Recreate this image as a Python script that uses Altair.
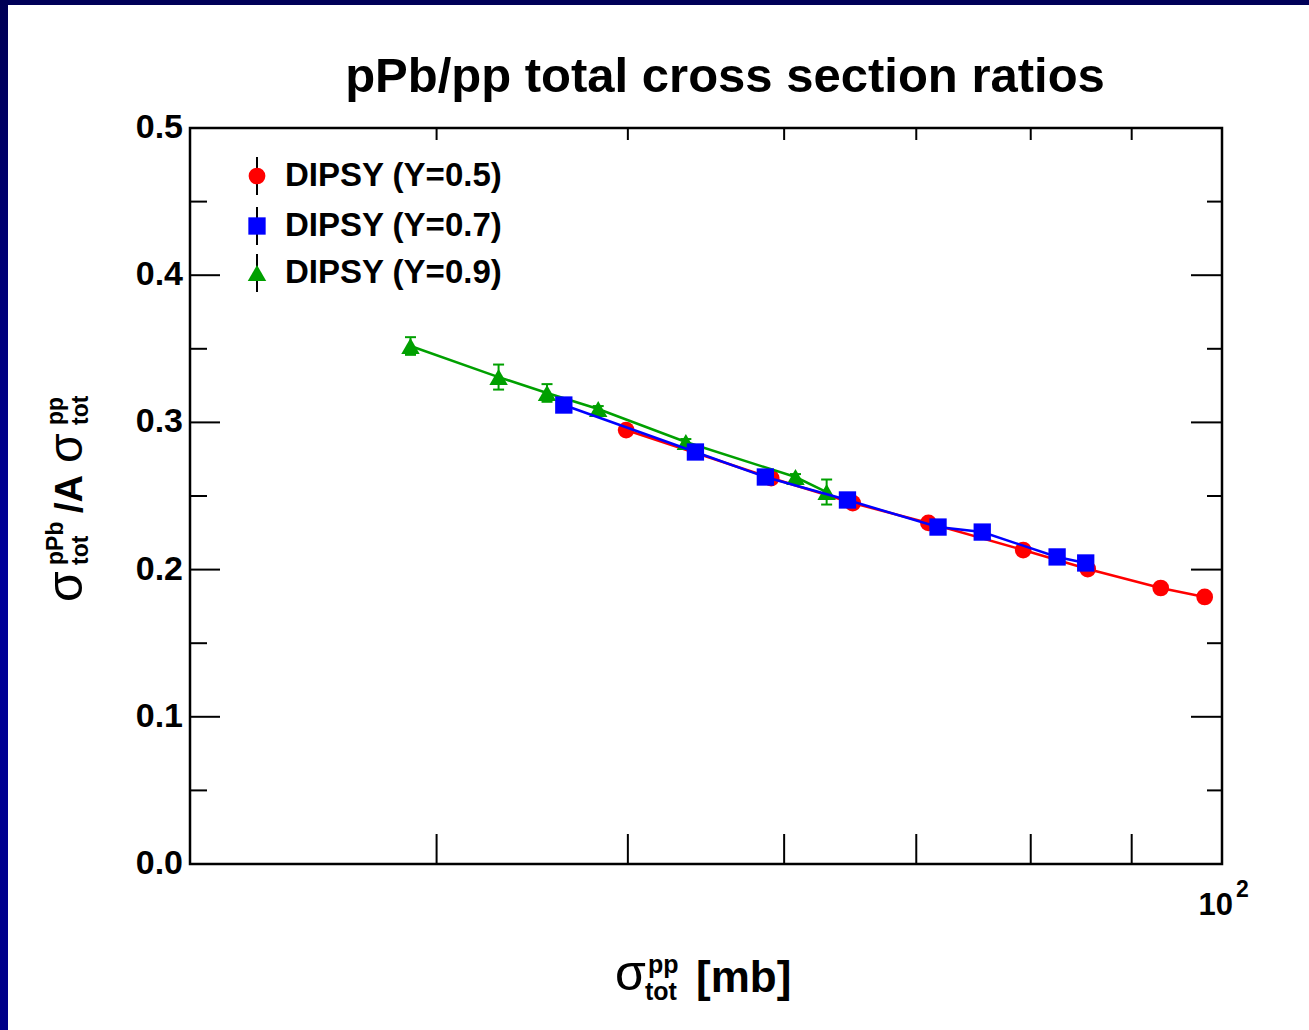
import altair as alt
import pandas as pd

# ---------------- data ----------------
red_x = [49.9, 59.1, 65.0, 71.0, 79.3, 85.5, 93.1, 98.0]
red_y = [0.2948, 0.2622, 0.2452, 0.2317, 0.2133, 0.2004, 0.1875, 0.1814]

blue_x = [46.4, 54.1, 58.7, 64.6, 71.8, 75.6, 82.5, 85.3]
blue_y = [0.3118, 0.2799, 0.2629, 0.2473, 0.2289, 0.2255, 0.2086, 0.2045]

green_x = [38.8, 43.0, 45.5, 48.3, 53.5, 60.8, 63.05]
green_y = [0.3519, 0.3308, 0.3200, 0.3091, 0.2867, 0.2629, 0.2527]
green_err = [0.006, 0.0085, 0.006, 0.002, 0.002, 0.002, 0.0085]

series_labels = ["DIPSY (Y=0.5)", "DIPSY (Y=0.7)", "DIPSY (Y=0.9)"]
series_colors = ["#ff0000", "#0000ff", "#00a000"]
series_shapes = ["circle", "square", "triangle-up"]
series_sizes = [280, 300, 340]

x_ticks = [40, 50, 60, 70, 80, 90]
y_labels = [0.0, 0.1, 0.2, 0.3, 0.4, 0.5]
y_major = [0.1, 0.2, 0.3, 0.4]
y_minor = [0.05, 0.15, 0.25, 0.35, 0.45]

W, H = 1032, 736
FONT = "Liberation Sans"

xs = alt.Scale(type="log", domain=[30, 100], nice=False)
ys = alt.Scale(domain=[0, 0.5], nice=False, zero=False)

dummy = pd.DataFrame({"k": [0]})


def X(field="x"):
    return alt.X(f"{field}:Q", scale=xs, axis=None)


def Y(field="y"):
    return alt.Y(f"{field}:Q", scale=ys, axis=None)


# ---------------- frame decoration (navy slide border) ----------------
top_bar = alt.Chart(dummy).mark_rect(color="#000058").encode(
    x=alt.value(-190), x2=alt.value(1119), y=alt.value(-128), y2=alt.value(-123)
)
left_bar = alt.Chart(dummy).mark_rect(
    color=alt.LinearGradient(
        gradient="linear",
        stops=[
            alt.GradientStop(color="#000055", offset=0),
            alt.GradientStop(color="#00009a", offset=0.55),
            alt.GradientStop(color="#000088", offset=1),
        ],
        x1=0, x2=0, y1=0, y2=1,
    )
).encode(x=alt.value(-190), x2=alt.value(-182), y=alt.value(-128), y2=alt.value(902))

# ---------------- y tick labels ----------------
ydf = pd.DataFrame({"y": y_labels})
ylabels = alt.Chart(ydf).mark_text(
    font=FONT, fontWeight="bold", fontSize=34, align="right", baseline="middle", color="black"
).encode(y=Y("y"), x=alt.value(-7), text=alt.Text("y:Q", format=".1f"))

# ---------------- ticks (inside) ----------------
xt = pd.DataFrame({"x": x_ticks})
ymaj = pd.DataFrame({"y": y_major})
ymin = pd.DataFrame({"y": y_minor})
rule = dict(color="black", strokeWidth=2)
ticks = [
    alt.Chart(xt).mark_rule(**rule).encode(x=X(), y=alt.value(H), y2=alt.value(H - 30)),
    alt.Chart(xt).mark_rule(**rule).encode(x=X(), y=alt.value(0), y2=alt.value(12)),
    alt.Chart(ymaj).mark_rule(**rule).encode(y=Y(), x=alt.value(0), x2=alt.value(30)),
    alt.Chart(ymin).mark_rule(**rule).encode(y=Y(), x=alt.value(0), x2=alt.value(17)),
    alt.Chart(ymaj).mark_rule(**rule).encode(y=Y(), x=alt.value(W), x2=alt.value(W - 31)),
    alt.Chart(ymin).mark_rule(**rule).encode(y=Y(), x=alt.value(W), x2=alt.value(W - 15)),
]

# ---------------- series ----------------
red_df = pd.DataFrame({"x": red_x, "y": red_y})
blue_df = pd.DataFrame({"x": blue_x, "y": blue_y})
green_df = pd.DataFrame({"x": green_x, "y": green_y, "e": green_err})
green_df["lo"] = green_df["y"] - green_df["e"]
green_df["hi"] = green_df["y"] + green_df["e"]


def series(df, color, shape, size):
    line = alt.Chart(df).mark_line(color=color, strokeWidth=2.5).encode(x=X(), y=Y())
    pts = alt.Chart(df).mark_point(
        filled=True, shape=shape, size=size, color=color, opacity=1
    ).encode(x=X(), y=Y())
    return [line, pts]


green_err_layers = [
    alt.Chart(green_df).mark_rule(color=series_colors[2], strokeWidth=2).encode(
        x=X(), y=Y("lo"), y2="hi:Q"
    ),
    alt.Chart(green_df).mark_tick(
        orient="horizontal", size=11, thickness=2, color=series_colors[2], opacity=1
    ).encode(x=X(), y=Y("lo")),
    alt.Chart(green_df).mark_tick(
        orient="horizontal", size=11, thickness=2, color=series_colors[2], opacity=1
    ).encode(x=X(), y=Y("hi")),
]

data_layers = (
    series(red_df, series_colors[0], series_shapes[0], series_sizes[0])
    + green_err_layers
    + series(green_df, series_colors[2], series_shapes[2], series_sizes[2])
    + series(blue_df, series_colors[1], series_shapes[1], series_sizes[1])
)

# ---------------- legend (drawn) ----------------
legend_layers = []
rows_y = [48, 98, 145]
for lab, col, shp, ry, sz in zip(series_labels, series_colors, series_shapes, rows_y, series_sizes):
    legend_layers.append(
        alt.Chart(dummy).mark_rule(color="black", strokeWidth=2).encode(
            x=alt.value(67), y=alt.value(ry - 19), y2=alt.value(ry + 19)
        )
    )
    legend_layers.append(
        alt.Chart(dummy).mark_point(filled=True, shape=shp, size=sz, color=col, opacity=1).encode(
            x=alt.value(67), y=alt.value(ry)
        )
    )
    legend_layers.append(
        alt.Chart(dummy).mark_text(
            text=lab, font=FONT, fontWeight="bold", fontSize=33, align="left",
            baseline="middle", color="black",
        ).encode(x=alt.value(95), y=alt.value(ry))
    )


# ---------------- texts: title, axis titles, 10^2 ----------------
def txt(text, x, y, size, weight="bold", align="left", baseline="alphabetic", angle=0):
    kw = dict(text=text, font=FONT, fontWeight=weight, fontSize=size, align=align,
              baseline=baseline, color="black")
    if angle:
        kw["angle"] = angle
    return alt.Chart(dummy).mark_text(**kw).encode(x=alt.value(x), y=alt.value(y))


texts = [
    txt("pPb/pp total cross section ratios", 535, -36, 49, align="center"),
    # x tick label 10^2
    txt("10", 1043, 787, 31, align="right"),
    txt("2", 1046, 769, 23),
    # x axis title
    txt("σ", 425, 862, 50, weight="normal"),
    txt("pp", 458, 845, 25),
    txt("tot", 455, 872, 25),
    txt("[mb]", 506, 864, 44),
    # y axis title (rotated)
    txt("σ", -108, 474, 50, weight="normal", angle=270),
    txt("pPb", -127, 437, 23, angle=270),
    txt("tot", -102, 437, 23, angle=270),
    txt(" /A", -108, 385, 38, angle=270),
    txt("σ", -108, 335, 48, weight="normal", angle=270),
    txt("pp", -127, 297, 23, angle=270),
    txt("tot", -102, 297, 23, angle=270),
]

chart = alt.layer(
    top_bar, left_bar, ylabels, *ticks, *data_layers, *legend_layers, *texts
).properties(
    width=W, height=H,
    autosize=alt.AutoSizeParams(type="none"),
    padding={"left": 190, "top": 128, "right": 87, "bottom": 166},
    background="white",
).configure_view(stroke="black", strokeWidth=2.5, fill="white")

chart.save("out.html", embed_options={"renderer": "svg", "actions": False})
